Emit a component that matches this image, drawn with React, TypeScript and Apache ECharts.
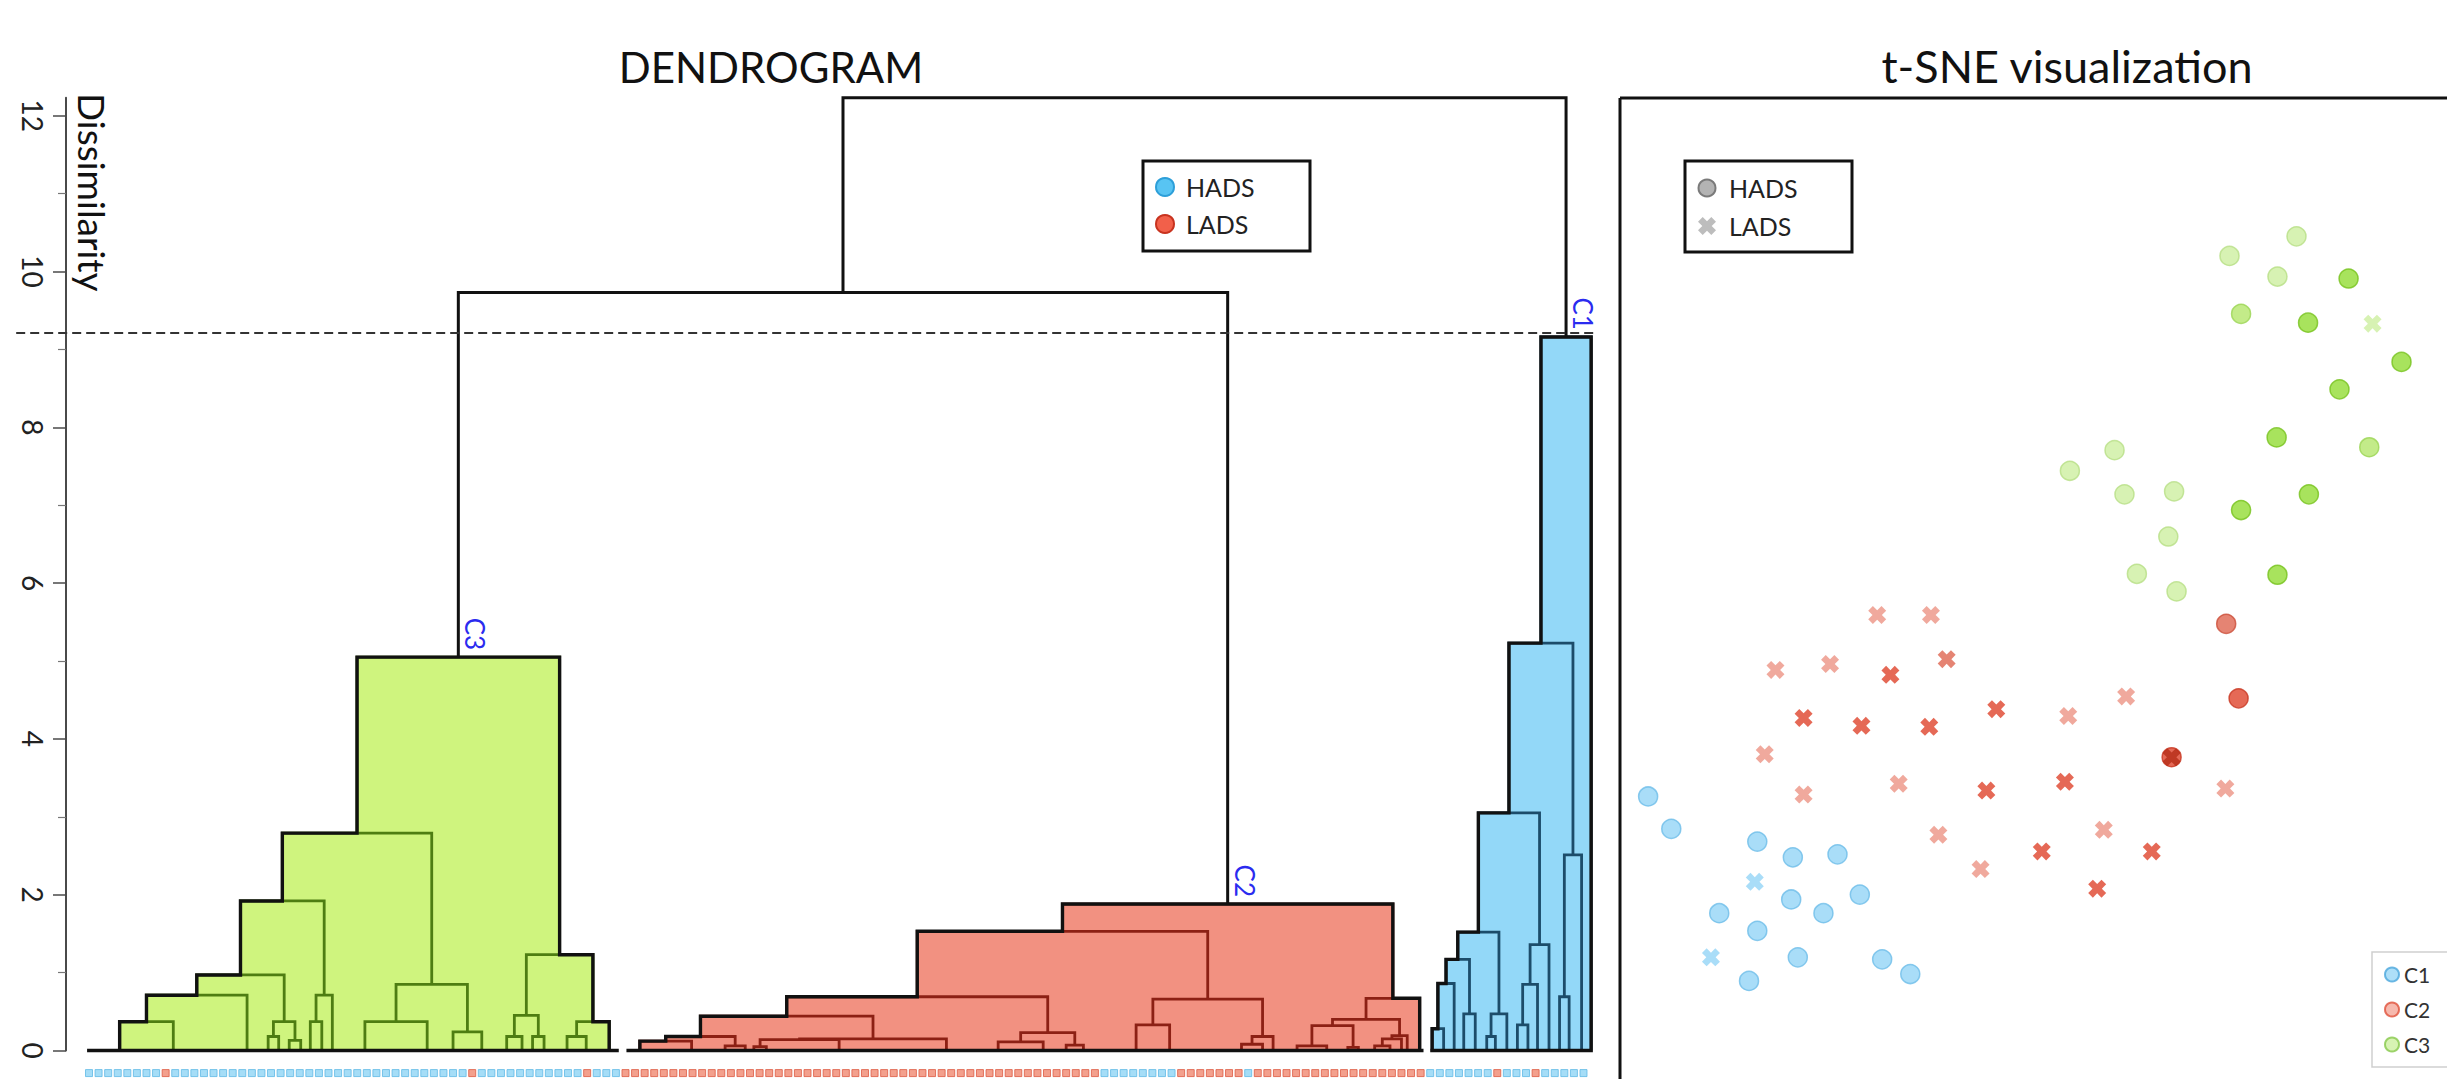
import { useEffect, useRef } from 'react';
import * as echarts from 'echarts';

const FONT = 'Lato, "Noto Sans", "DejaVu Sans", sans-serif';

type Ref = number | string;
type Merge = [string, number, Ref, Ref];

// Dendrogram merges: [id, height, left child, right child]; numeric children are leaf positions
const c3Merges: Merge[] = [
  ['g1', 0.37, 3.2, 8.8],
  ['g2', 0.71, 'g1', 16.5],
  ['g3', 0.18, 18.7, 19.8],
  ['g4', 0.13, 20.9, 22.1],
  ['g5', 0.37, 'g3', 'g4'],
  ['g6', 0.97, 'g2', 'g5'],
  ['g7', 0.37, 23.1, 24.3],
  ['g8', 0.71, 'g7', 25.4],
  ['g9', 1.92, 'g6', 'g8'],
  ['g10', 0.37, 28.8, 35.3],
  ['g11', 0.24, 38.0, 41.0],
  ['g12', 0.85, 'g10', 'g11'],
  ['g13', 2.79, 'g9', 'g12'],
  ['g14', 0.18, 43.6, 45.2],
  ['g15', 0.18, 46.3, 47.5],
  ['g16', 0.45, 'g14', 'g15'],
  ['g17', 0.18, 49.9, 51.9],
  ['g18', 0.37, 'g17', 54.3],
  ['g19', 1.23, 'g16', 'g18'],
  ['g20', 5.05, 'g13', 'g19'],
];

const c2Merges: Merge[] = [
  ['r1', 0.12, 57.5, 62.9],
  ['r2', 0.06, 66.4, 68.5],
  ['r3', 0.18, 'r1', 'r2'],
  ['r4', 0.05, 69.4, 70.7],
  ['r5', 0.14, 'r4', 78.3],
  ['r6', 0.15, 'r5', 89.5],
  ['r7', 0.44, 'r3', 'r6'],
  ['r8', 0.11, 94.9, 99.6],
  ['r9', 0.07, 102.0, 103.8],
  ['r10', 0.23, 'r8', 'r9'],
  ['r11', 0.69, 'r7', 'r10'],
  ['r12', 0.33, 109.3, 112.8],
  ['r13', 0.08, 120.3, 122.5],
  ['r14', 0.18, 'r13', 123.6],
  ['r15', 0.66, 'r12', 'r14'],
  ['r16', 1.53, 'r11', 'r15'],
  ['r17', 0.06, 126.1, 129.2],
  ['r18', 0.04, 131.4, 132.5],
  ['r19', 0.32, 'r17', 'r18'],
  ['r20', 0.06, 134.2, 135.8],
  ['r21', 0.15, 'r20', 137.0],
  ['r22', 0.19, 'r21', 137.6],
  ['r23', 0.40, 'r19', 'r22'],
  ['r24', 0.67, 'r23', 138.9],
  ['r25', 1.88, 'r16', 'r24'],
];

const c1Merges: Merge[] = [
  ['b1', 0.28, 140.2, 141.4],
  ['b2', 0.86, 'b1', 142.5],
  ['b3', 0.47, 143.5, 144.7],
  ['b4', 1.17, 'b2', 'b3'],
  ['b5', 0.18, 145.9, 146.8],
  ['b6', 0.47, 'b5', 148.0],
  ['b7', 1.52, 'b4', 'b6'],
  ['b8', 0.33, 149.1, 150.2],
  ['b9', 0.85, 'b8', 151.2],
  ['b10', 1.36, 'b9', 152.4],
  ['b11', 3.05, 'b7', 'b10'],
  ['b12', 0.69, 153.5, 154.5],
  ['b13', 2.51, 'b12', 155.8],
  ['b14', 5.23, 'b11', 'b13'],
  ['b15', 9.16, 'b14', 156.8],
];

const upperMerges: Merge[] = [
  ['u1', 9.73, 'g20', 'r25'],
  ['u2', 12.23, 'u1', 'b15'],
];

const clusterNames = ['C3', 'C2', 'C1'];
const clusterTops = ['g20', 'r25', 'b15'];
const clusterLeafSpans: [number, number][] = [[-0.2, 55.3], [56.1, 139.3], [140.0, 156.8]];
const cutHeight = 9.21;
const cutSpan: [number, number] = [-7.6, 157.4];

// leaf class runs (H = HADS, L = LADS) in dendrogram order
const leafRuns: [string, number][] = [
  ['H', 8], ['L', 1], ['H', 31], ['L', 1], ['H', 11], ['L', 1], ['H', 3],
  ['L', 50], ['H', 8], ['L', 7], ['H', 1], ['L', 18],
  ['H', 7], ['L', 1], ['H', 3], ['L', 1], ['H', 5],
];

const majorTicks = [0, 2, 4, 6, 8, 10, 12];
const minorTicks = [1, 3, 5, 7, 9, 11];

// t-SNE points: [x, y, marker, shade]
type Pt = [number, number, string, number];
const c1Points: Pt[] = [
  [3.4, 28.8, 'o', 0], [6.2, 25.5, 'o', 0], [16.6, 24.2, 'o', 0], [20.9, 22.6, 'o', 0],
  [26.3, 22.9, 'o', 0], [20.7, 18.3, 'o', 0], [29.0, 18.8, 'o', 0], [12.0, 16.9, 'o', 0],
  [24.6, 16.9, 'o', 0], [16.6, 15.1, 'o', 0], [21.5, 12.4, 'o', 0], [15.6, 10.0, 'o', 0],
  [31.7, 12.2, 'o', 0], [35.1, 10.7, 'o', 0], [16.3, 20.1, 'x', 0], [11.0, 12.4, 'x', 0],
];
const c2Points: Pt[] = [
  [73.3, 46.4, 'o', 1], [74.8, 38.8, 'o', 2], [66.7, 32.8, 'o', 2], [66.7, 32.8, 'x', 3],
  [31.1, 47.3, 'x', 0], [37.6, 47.3, 'x', 0], [18.8, 41.7, 'x', 0], [25.4, 42.3, 'x', 0],
  [32.7, 41.2, 'x', 2], [39.5, 42.8, 'x', 1], [22.2, 36.8, 'x', 2], [29.2, 36.0, 'x', 2],
  [37.4, 35.9, 'x', 2], [45.5, 37.7, 'x', 2], [54.2, 37.0, 'x', 0], [61.2, 39.0, 'x', 0],
  [17.5, 33.1, 'x', 0], [22.2, 29.0, 'x', 0], [33.7, 30.1, 'x', 0], [44.3, 29.4, 'x', 2],
  [53.8, 30.3, 'x', 2], [73.2, 29.6, 'x', 0], [38.5, 24.9, 'x', 0], [43.6, 21.4, 'x', 0],
  [51.0, 23.2, 'x', 2], [58.5, 25.4, 'x', 0], [64.3, 23.2, 'x', 2], [57.7, 19.4, 'x', 2],
];
const c3Points: Pt[] = [
  [81.8, 85.9, 'o', 0], [73.7, 83.9, 'o', 0], [79.5, 81.8, 'o', 0], [88.1, 81.6, 'o', 2],
  [75.1, 78.0, 'o', 1], [83.2, 77.1, 'o', 2], [91.0, 77.0, 'x', 0], [94.5, 73.1, 'o', 2],
  [87.0, 70.3, 'o', 2], [79.4, 65.4, 'o', 2], [90.6, 64.4, 'o', 1], [59.8, 64.1, 'o', 0],
  [54.4, 62.0, 'o', 0], [61.0, 59.6, 'o', 0], [67.0, 59.9, 'o', 0], [83.3, 59.6, 'o', 2],
  [75.1, 58.0, 'o', 2], [66.3, 55.3, 'o', 0], [62.5, 51.5, 'o', 0], [67.3, 49.7, 'o', 0],
  [79.5, 51.4, 'o', 2],
];

const clusterFill = ['#cff47e', '#f29181', '#93d8f8'];
const clusterLine = ['#4e7d12', '#8c2014', '#1c4c6a'];
const leafColor: Record<string, [string, string]> = { H: ['#8fd4f5', '#5fb9e6'], L: ['#f08870', '#dd5a42'] };

const c1Shades = ['#93d4f6', '#7cc8f0', '#5cb8ea', '#3a9ad0'];
const c1Borders = ['#6dbde9', '#5aaee0', '#3d9fd6', '#2a86bc'];
const c2Shades = ['#ec9484', '#df6550', '#df432c', '#b52d18'];
const c2Borders = ['#e08070', '#cc4d38', '#c83620', '#9a2410'];
const c3Shades = ['#cdefa0', '#b4e66c', '#92dc34', '#70c010'];
const c3Borders = ['#b6df84', '#9ad452', '#76c21c', '#5aa008'];

const CROSS = 'path://M0,2.6 L2.6,0 L5,2.4 L7.4,0 L10,2.6 L7.6,5 L10,7.4 L7.4,10 L5,7.6 L2.6,10 L0,7.4 L2.4,5 Z';

// ---------- derived geometry (data space) ----------
const allMerges = [...c3Merges, ...c2Merges, ...c1Merges, ...upperMerges];
const mergeMap = new Map<string, Merge>(allMerges.map((m) => [m[0], m]));
const xOf = (r: Ref): number => {
  if (typeof r === 'number') return r;
  const m = mergeMap.get(r)!;
  return (xOf(m[2]) + xOf(m[3])) / 2;
};
const hOf = (r: Ref): number => (typeof r === 'number' ? 0 : mergeMap.get(r)![1]);
const subtree = (id: string): Merge[] => {
  const m = mergeMap.get(id)!;
  const out = [m];
  for (const c of [m[2], m[3]]) if (typeof c === 'string') out.push(...subtree(c));
  return out;
};
const linkRow = (m: Merge, color: number) => [xOf(m[2]), xOf(m[3]), m[1], hOf(m[2]), hOf(m[3]), color];
const clusterLinks = [
  ...c3Merges.map((m) => linkRow(m, 0)),
  ...c2Merges.map((m) => linkRow(m, 1)),
  ...c1Merges.map((m) => linkRow(m, 2)),
];
const upperLinks = upperMerges.map((m) => linkRow(m, 3));

const skyline = (topId: string, span: [number, number]): number[][] => {
  const rects = subtree(topId).map((m) => [xOf(m[2]), xOf(m[3]), m[1]]);
  const xs = Array.from(new Set([span[0], span[1], ...rects.flatMap((r) => [r[0], r[1]])])).sort((a, b) => a - b);
  const pts: number[][] = [[span[0], 0]];
  for (let i = 0; i < xs.length - 1; i++) {
    const a = xs[i];
    const b = xs[i + 1];
    let h = 0;
    for (const r of rects) if (r[0] <= a + 1e-9 && r[1] >= b - 1e-9) h = Math.max(h, r[2]);
    pts.push([a, h], [b, h]);
  }
  pts.push([span[1], 0]);
  return pts;
};
const skylines = clusterTops.map((t, i) => skyline(t, clusterLeafSpans[i]));

const leafClasses: string[] = leafRuns.flatMap(([c, n]) => Array(n).fill(c));

const tsneData = (pts: Pt[], shades: string[], borders: string[]) =>
  pts.map(([x, y, mk, s]) => ({
    value: [x, y],
    symbol: mk === 'x' ? CROSS : 'circle',
    symbolSize: mk === 'x' ? 18 : 19,
    itemStyle: mk === 'x'
      ? { color: shades[s], borderWidth: 0 }
      : { color: shades[s], borderColor: borders[s], borderWidth: 1.5 },
  }));

const crossPoints = (cx: number, cy: number, s: number) => {
  const u = s / 10;
  const p = [[0, 2.6], [2.6, 0], [5, 2.4], [7.4, 0], [10, 2.6], [7.6, 5], [10, 7.4], [7.4, 10], [5, 7.6], [2.6, 10], [0, 7.4], [2.4, 5]];
  return p.map(([a, b]) => [cx - s / 2 + a * u, cy - s / 2 + b * u]);
};

export default function App() {
  const ref = useRef<HTMLDivElement>(null);
  useEffect(() => {
    const chart = echarts.init(ref.current!, null, { renderer: 'svg' });
    const option: any = {
      animation: false,
      backgroundColor: '#ffffff',
      textStyle: { fontFamily: FONT },
      grid: [
        { left: 89, right: 863.5, top: 97.8, bottom: 28.5 },
        { left: 1620, right: 0, top: 98, bottom: 0 },
      ],
      xAxis: [
        { gridIndex: 0, type: 'value', min: 0, max: 156, show: false },
        { gridIndex: 1, type: 'value', min: 0, max: 100, show: false },
      ],
      yAxis: [
        {
          gridIndex: 0, type: 'value', position: 'left', min: 0, max: 12.23, offset: 23,
          axisLine: { show: true, onZero: false, lineStyle: { color: '#4a4a4a', width: 2 } },
          axisTick: { show: true, customValues: majorTicks, length: 13, lineStyle: { color: '#4a4a4a', width: 1.5 } },
          axisLabel: {
            show: true, customValues: majorTicks, rotate: -90, fontSize: 28, color: '#222',
            fontFamily: FONT, margin: 19,
            formatter: (v: number) => (Number.isInteger(v) ? String(v) : ''),
          },
          splitLine: { show: false },
        },
        {
          gridIndex: 0, type: 'value', position: 'left', min: 0, max: 12.23, offset: 23,
          axisLine: { show: false, onZero: false },
          axisTick: { show: true, customValues: minorTicks, length: 8, lineStyle: { color: '#777', width: 1.2 } },
          axisLabel: { show: false },
          splitLine: { show: false },
        },
        { gridIndex: 1, type: 'value', min: 0, max: 100, show: false },
      ],
      legend: {
        data: ['C1', 'C2', 'C3'],
        orient: 'vertical',
        left: 2372,
        top: 952,
        icon: 'circle',
        itemWidth: 14,
        itemHeight: 14,
        itemGap: 14,
        padding: [12, 30, 12, 12],
        borderColor: '#cfcfcf',
        borderWidth: 1.5,
        backgroundColor: '#ffffff',
        textStyle: { fontSize: 21, color: '#333', fontFamily: FONT },
      },
      graphic: [
        { type: 'text', x: 771, y: 67, style: { text: 'DENDROGRAM', font: `42px ${FONT}`, fill: '#111', align: 'center', verticalAlign: 'middle' } },
        { type: 'text', x: 2067, y: 66, style: { text: 't-SNE visualization', font: `45px ${FONT}`, fill: '#111', align: 'center', verticalAlign: 'middle' } },
        { type: 'text', x: 92, y: 93, rotation: -Math.PI / 2, style: { text: 'Dissimilarity', font: `37px ${FONT}`, fill: '#111', align: 'left', verticalAlign: 'middle' } },
        { type: 'line', shape: { x1: 1620, y1: 98, x2: 2447, y2: 98 }, style: { stroke: '#111', lineWidth: 3 } },
        { type: 'line', shape: { x1: 1620, y1: 98, x2: 1620, y2: 1079 }, style: { stroke: '#111', lineWidth: 3 } },
        // dendrogram legend
        { type: 'rect', shape: { x: 1143, y: 161, width: 167, height: 90 }, style: { fill: '#fff', stroke: '#111', lineWidth: 3 } },
        { type: 'circle', shape: { cx: 1165, cy: 187, r: 9 }, style: { fill: '#58c4f3', stroke: '#2d9fd9', lineWidth: 2 } },
        { type: 'circle', shape: { cx: 1165, cy: 224, r: 9 }, style: { fill: '#f2604a', stroke: '#c8331f', lineWidth: 2 } },
        { type: 'text', x: 1186, y: 187, style: { text: 'HADS', font: `25px ${FONT}`, fill: '#222', align: 'left', verticalAlign: 'middle' } },
        { type: 'text', x: 1186, y: 224, style: { text: 'LADS', font: `25px ${FONT}`, fill: '#222', align: 'left', verticalAlign: 'middle' } },
        // t-SNE marker legend
        { type: 'rect', shape: { x: 1685, y: 161, width: 167, height: 91 }, style: { fill: '#fff', stroke: '#111', lineWidth: 3 } },
        { type: 'circle', shape: { cx: 1707, cy: 188, r: 8.5 }, style: { fill: '#b3b3b3', stroke: '#7a7a7a', lineWidth: 2 } },
        { type: 'polygon', shape: { points: crossPoints(1707, 226, 18) }, style: { fill: '#bdbdbd' } },
        { type: 'text', x: 1729, y: 188, style: { text: 'HADS', font: `25px ${FONT}`, fill: '#222', align: 'left', verticalAlign: 'middle' } },
        { type: 'text', x: 1729, y: 226, style: { text: 'LADS', font: `25px ${FONT}`, fill: '#222', align: 'left', verticalAlign: 'middle' } },
      ],
      series: [
        {
          type: 'custom', xAxisIndex: 0, yAxisIndex: 0, z: 1, clip: false, silent: true,
          data: clusterTops.map((_, i) => [i, 0]),
          renderItem: (params: any, api: any) => ({
            type: 'polygon',
            shape: { points: skylines[params.dataIndex].map((p) => api.coord(p)) },
            style: { fill: clusterFill[params.dataIndex] },
          }),
        },
        {
          type: 'custom', xAxisIndex: 0, yAxisIndex: 0, z: 2, clip: false, silent: true,
          data: clusterLinks,
          renderItem: (params: any, api: any) => {
            const d = clusterLinks[params.dataIndex];
            return {
              type: 'polyline',
              shape: { points: [api.coord([d[0], d[3]]), api.coord([d[0], d[2]]), api.coord([d[1], d[2]]), api.coord([d[1], d[4]])] },
              style: { stroke: clusterLine[d[5]], lineWidth: 2.8, fill: 'none' },
            };
          },
        },
        {
          type: 'custom', xAxisIndex: 0, yAxisIndex: 0, z: 3, clip: false, silent: true,
          data: clusterTops.map((_, i) => [i, 0]),
          renderItem: (params: any, api: any) => ({
            type: 'polygon',
            shape: { points: skylines[params.dataIndex].map((p) => api.coord(p)) },
            style: { fill: 'none', stroke: '#111', lineWidth: 3.4, lineJoin: 'miter' },
          }),
        },
        {
          type: 'custom', xAxisIndex: 0, yAxisIndex: 0, z: 4, clip: false, silent: true,
          data: upperLinks,
          renderItem: (params: any, api: any) => {
            const d = upperLinks[params.dataIndex];
            return {
              type: 'polyline',
              shape: { points: [api.coord([d[0], d[3]]), api.coord([d[0], d[2]]), api.coord([d[1], d[2]]), api.coord([d[1], d[4]])] },
              style: { stroke: '#111', lineWidth: 3, fill: 'none' },
            };
          },
        },
        {
          type: 'custom', xAxisIndex: 0, yAxisIndex: 0, z: 4, clip: false, silent: true,
          data: [[cutSpan[0], cutHeight]],
          renderItem: (_params: any, api: any) => {
            const a = api.coord([cutSpan[0], cutHeight]);
            const b = api.coord([cutSpan[1], cutHeight]);
            return {
              type: 'line',
              shape: { x1: a[0], y1: a[1], x2: b[0], y2: b[1] },
              style: { stroke: '#333', lineWidth: 2, lineDash: [9, 5] },
            };
          },
        },
        {
          type: 'custom', xAxisIndex: 0, yAxisIndex: 0, z: 5, clip: false, silent: true,
          data: clusterTops.map((_, i) => [i, 0]),
          renderItem: (params: any, api: any) => {
            const id = clusterTops[params.dataIndex];
            const p = api.coord([xOf(id), hOf(id)]);
            return {
              type: 'text',
              x: p[0] + 4,
              y: p[1] - 7,
              rotation: -Math.PI / 2,
              style: { text: clusterNames[params.dataIndex], font: `26px ${FONT}`, fill: '#2b2bef', align: 'right', verticalAlign: 'bottom' },
            };
          },
        },
        {
          type: 'scatter', xAxisIndex: 0, yAxisIndex: 0, z: 3, clip: false, silent: true,
          symbol: 'rect', symbolSize: 7,
          data: leafClasses.map((c, i) => ({
            value: [i, -0.29],
            itemStyle: { color: leafColor[c][0], borderColor: leafColor[c][1], borderWidth: 1 },
          })),
        },
        {
          name: 'C1', type: 'scatter', xAxisIndex: 1, yAxisIndex: 2, z: 3,
          itemStyle: { color: '#9ad7f6', borderColor: '#4aa6dc', borderWidth: 1.5 },
          data: tsneData(c1Points, c1Shades, c1Borders),
        },
        {
          name: 'C2', type: 'scatter', xAxisIndex: 1, yAxisIndex: 2, z: 3,
          itemStyle: { color: '#f4a89a', borderColor: '#e0503a', borderWidth: 1.5 },
          data: tsneData(c2Points, c2Shades, c2Borders),
        },
        {
          name: 'C3', type: 'scatter', xAxisIndex: 1, yAxisIndex: 2, z: 3,
          itemStyle: { color: '#cdf0a0', borderColor: '#86c84a', borderWidth: 1.5 },
          data: tsneData(c3Points, c3Shades, c3Borders),
        },
      ],
    };
    chart.setOption(option);
    return () => chart.dispose();
  }, []);
  return (
    <div
      ref={ref}
      style={{ position: 'fixed', left: 0, top: 0, width: 2447, height: 1079, background: '#fff' }}
    />
  );
}
